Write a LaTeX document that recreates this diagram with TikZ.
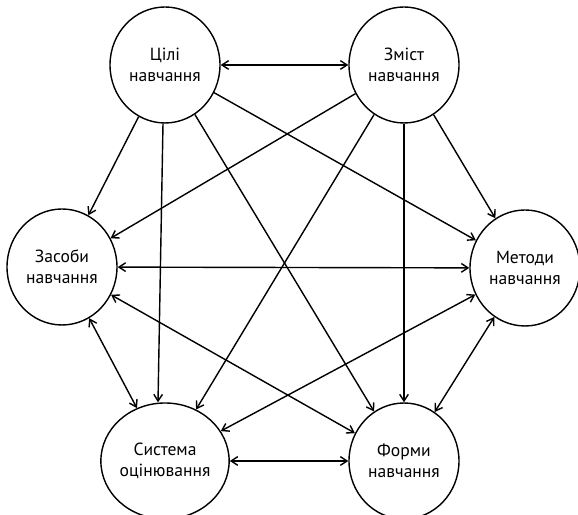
\documentclass[tikz,border=0pt]{standalone}
\usepackage{fontspec}
\setmainfont{PT Sans}
\usepackage{tikz}
\usetikzlibrary{positioning,arrows.meta,shapes.geometric}

\begin{document}
\begin{tikzpicture}[
  comp/.style={ellipse, draw=black, line width=1.2pt, minimum width=3.3cm,
               minimum height=3.48cm, inner sep=0pt, align=center,
               font=\fontsize{15}{18}\selectfont},
  arw/.style={-{Straight Barb[length=2mm,width=2.6mm]}, line width=1.2pt},
  biarw/.style={{Straight Barb[length=2mm,width=2.6mm]}-{Straight Barb[length=2mm,width=2.6mm]},
                line width=1.2pt}]
  \useasboundingbox (0,0) rectangle (17.34,15.45);
  \node[comp] (goal)    at (4.95,13.5)  {Цілі\\навчання};
  \node[comp] (content) at (12.12,13.5) {Зміст\\навчання};
  \node[comp] (means)   at (1.86,7.44)  {Засоби\\навчання};
  \node[comp] (methods) at (15.75,7.41) {Методи\\навчання};
  \node[comp] (assess)  at (4.95,1.62)  {Система\\оцінювання};
  \node[comp] (forms)   at (12.12,1.62) {Форми\\навчання};
  \draw[biarw] (goal) -- (content);
  \draw[arw] (goal) -- (means);
  \draw[arw] ([xshift=-0.06cm]goal.south) -- ([xshift=-0.21cm]assess.north);
  \draw[arw] (goal) -- (forms);
  \draw[arw] (goal) -- (methods);
  \draw[arw] (content) -- (means);
  \draw[arw] (content) -- (assess);
  \draw[arw] (content) -- (forms);
  \draw[arw] (content) -- (methods);
  \draw[biarw] (means) -- (methods);
  \draw[biarw] (means) -- (assess);
  \draw[biarw] (means) -- (forms);
  \draw[biarw] (methods) -- (assess);
  \draw[biarw] (methods) -- (forms);
  \draw[biarw] (assess) -- (forms);
\end{tikzpicture}
\end{document}
